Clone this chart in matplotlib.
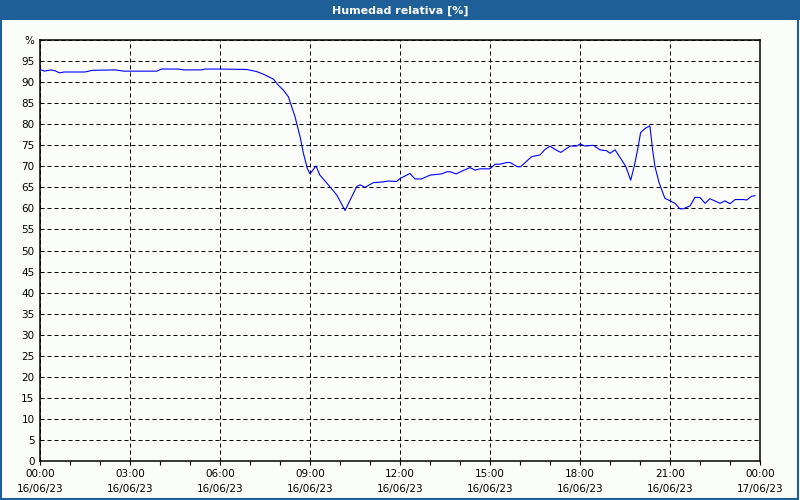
import matplotlib
matplotlib.use("Agg")
import matplotlib.pyplot as plt
from matplotlib.patches import Rectangle

# hours since 16/06/23 00:00 and relative humidity (%)
hours = [0.0, 0.15, 0.35, 0.5, 0.65, 0.8, 1.5, 1.75, 2.5, 2.8, 3.5, 3.9, 4.05, 4.6, 4.8,
         5.4, 5.5, 6.0, 6.89, 7.22, 7.44, 7.78, 7.94, 8.11, 8.28, 8.5, 8.67, 8.78, 8.91, 9.0, 9.2,
         9.33, 9.61, 9.89, 10.17, 10.31, 10.56, 10.67, 10.83, 11.11, 11.44, 11.61, 11.89,
         12.0, 12.33, 12.5, 12.72, 13.0, 13.39, 13.56, 13.67, 13.87, 14.11, 14.33, 14.5,
         14.67, 15.0, 15.17, 15.33, 15.56, 15.67, 15.91, 16.02, 16.39, 16.67, 16.83, 17.0,
         17.17, 17.36, 17.67, 17.89, 18.0, 18.17, 18.44, 18.67, 18.89, 19.0, 19.17, 19.39,
         19.53, 19.69, 19.83, 19.94, 20.02, 20.17, 20.33, 20.42, 20.5, 20.64, 20.83, 21.0,
         21.17, 21.33, 21.44, 21.67, 21.83, 22.0, 22.17, 22.33, 22.67, 22.83, 23.0, 23.17,
         23.44, 23.56, 23.72, 23.83]
humidity = [93.0, 92.6, 92.9, 92.7, 92.2, 92.4, 92.4, 92.8, 92.9, 92.6, 92.6, 92.6, 93.1, 93.1, 92.9,
            92.9, 93.1, 93.1, 93.0, 92.5, 91.9, 90.7, 89.3, 88.1, 86.5, 81.8, 77.0, 73.1, 69.5, 68.2, 70.1,
            67.9, 65.6, 63.2, 59.5, 61.6, 65.2, 65.6, 65.0, 66.1, 66.3, 66.5, 66.4,
            67.1, 68.3, 67.0, 67.0, 67.9, 68.2, 68.7, 68.7, 68.2, 69.0, 69.7, 69.1,
            69.4, 69.4, 70.5, 70.5, 70.9, 70.9, 69.9, 69.9, 72.3, 72.7, 74.0, 74.8,
            74.0, 73.3, 74.8, 74.8, 75.3, 74.8, 75.0, 73.9, 73.7, 73.1, 73.9, 71.5,
            69.9, 66.7, 70.7, 74.7, 78.0, 79.0, 79.6, 73.9, 69.9, 66.0, 62.4, 61.8,
            61.2, 59.9, 59.9, 60.6, 62.6, 62.6, 61.2, 62.3, 61.2, 61.8, 61.1, 62.1,
            62.1, 62.0, 62.9, 63.0]

xtick_pos = [0, 3, 6, 9, 12, 15, 18, 21, 24]
xtick_labels = ["00:00\n16/06/23", "03:00\n16/06/23", "06:00\n16/06/23", "09:00\n16/06/23",
                "12:00\n16/06/23", "15:00\n16/06/23", "18:00\n16/06/23", "21:00\n16/06/23",
                "00:00\n17/06/23"]
ytick_pos = list(range(0, 101, 5))
ytick_labels = [str(v) for v in range(0, 100, 5)] + ["%"]

blue = "#1d5f96"
bg = "#fbfdfb"

fig = plt.figure(figsize=(8, 5), dpi=100, facecolor=bg)
# title bar and frame
fig.patches.append(Rectangle((0, 0.96), 1, 0.04, transform=fig.transFigure,
                             facecolor=blue, edgecolor="none", zorder=0))
fig.patches.append(Rectangle((0.001, 0.002), 0.997, 0.996, transform=fig.transFigure,
                             facecolor="none", edgecolor=blue, linewidth=1.5, zorder=1))
fig.text(0.5, 0.979, "Humedad relativa [%]", color="white", fontsize=8,
         fontweight="bold", ha="center", va="center")

ax = fig.add_axes([0.05, 0.078, 0.90, 0.842])
ax.set_facecolor(bg)
ax.plot(hours, humidity, color="#0000ff", linewidth=0.8, zorder=3)

ax.set_xlim(0, 24)
ax.set_ylim(0, 100)
ax.set_xticks(xtick_pos)
ax.set_xticklabels(xtick_labels, fontsize=7.5, linespacing=1.55)
ax.set_xticks(range(0, 25), minor=True)
ax.set_yticks(ytick_pos)
ax.set_yticklabels(ytick_labels, fontsize=7.5)
ax.tick_params(axis="x", which="both", direction="out", length=3, width=0.8, pad=3)
ax.tick_params(axis="y", length=0, pad=4)

ax.grid(True, which="major", color="black", linewidth=0.72, linestyle=(0, (4, 3)), zorder=1)
for s in ax.spines.values():
    s.set_linewidth(1.1)

fig.savefig("out.png", dpi=100, facecolor=bg)
